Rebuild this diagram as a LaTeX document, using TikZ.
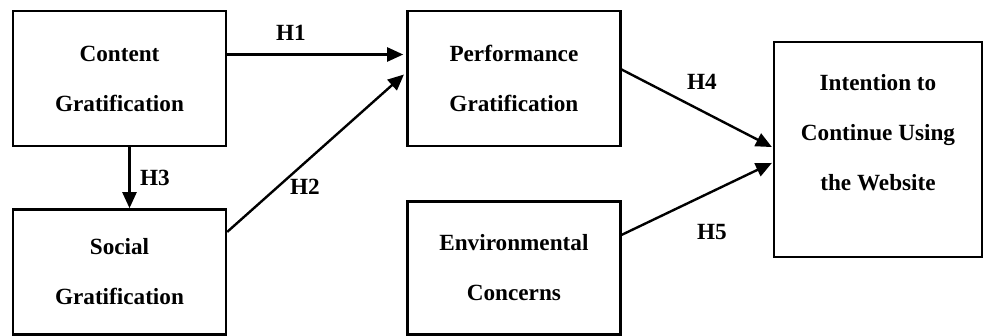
\documentclass[tikz,border=0pt]{standalone}
\usepackage{fontspec}
\setmainfont{Liberation Serif}
\usetikzlibrary{arrows.meta,positioning}

\begin{document}
\begin{tikzpicture}[x=1pt,y=-1pt,
  box/.style={draw=black,line width=2.4pt,minimum width=213pt,align=center,
    font=\fontsize{23.2}{50}\selectfont\bfseries},
  hyp/.style={font=\fontsize{23.2}{26}\selectfont\bfseries},
  arr/.style={-{Triangle[length=16pt,width=14pt]},line width=2.4pt,shorten >=3pt},
]
\useasboundingbox (0,0) rectangle (985,335);
\node[box,minimum height=135pt] (cont) at (119.5,78.5) {Content\\Gratification};
\node[box,minimum height=125pt,below=61pt of cont] (soc) {Social\\Gratification};
\node[box,minimum height=135pt,right=179pt of cont] (perf) {Performance\\Gratification};
\node[box,minimum height=133pt,below=53pt of perf] (env) {Environmental\\Concerns};
\node[box,minimum width=208pt,minimum height=215pt] (intent) at (878,149.5) {};
\node[align=center,font=\fontsize{23.2}{50}\selectfont\bfseries] (intxt) at ([yshift=17pt]intent.center) {Intention to\\Continue Using\\the Website};
% hypotheses
\draw[arr] ([yshift=24pt]cont.east) -- ([yshift=24pt]perf.west);
\draw[arr] ([yshift=40pt]soc.east) -- ([yshift=6pt]perf.west);
\draw[arr,shorten >=0pt] ([xshift=10pt]cont.south) -- ([xshift=10pt]cont.south |- soc.north);
\draw[arr,shorten >=1pt] ([yshift=9pt]perf.east) -- ([yshift=2pt]intent.west);
\draw[arr,shorten >=1pt] ([yshift=33pt]env.east) -- ([yshift=-13pt]intent.west);
\node[hyp] (h1) at (291,33) {H1};
\node[hyp] (h2) at (305,187) {H2};
\node[hyp] (h3) at (155,178) {H3};
\node[hyp] (h4) at (702,82) {H4};
\node[hyp] (h5) at (712,232) {H5};
\end{tikzpicture}
\end{document}
